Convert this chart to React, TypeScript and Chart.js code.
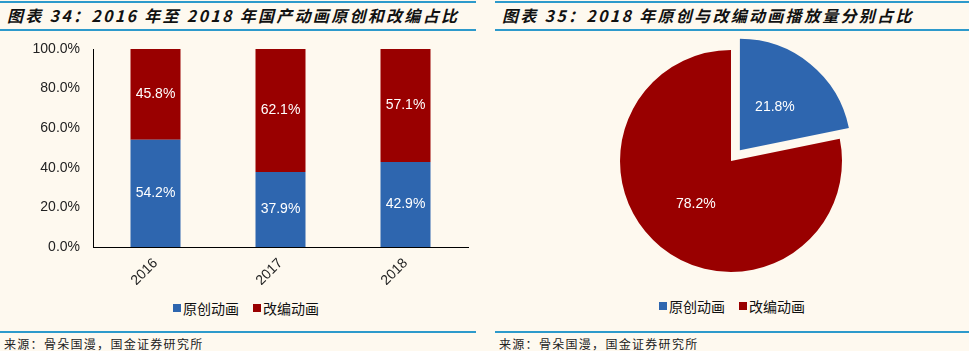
import React, { useEffect, useRef } from "react";
import { Chart, registerables } from "chart.js";

Chart.register(...registerables);

const years = ["2016", "2017", "2018"];
const originalShare = [54.2, 37.9, 42.9];
const adaptedShare = [45.8, 62.1, 57.1];
const yTicks = [0, 20, 40, 60, 80, 100];
const pieLabels = ["原创动画", "改编动画"];
const pieValues = [21.8, 78.2];
const seriesNames = ["原创动画", "改编动画"];

const BLUE = "#2E66AF";
const RED = "#990000";
const BG = "#FEF9EF";
const LINE = "#2D9ACB";
const TICK_FONT = "'Liberation Sans', Arial, sans-serif";

const barLabelPlugin = {
  id: "barLabels",
  afterDatasetsDraw(chart: any) {
    const ctx = chart.ctx;
    ctx.save();
    ctx.fillStyle = "#ffffff";
    ctx.font = `14px ${TICK_FONT}`;
    ctx.textAlign = "center";
    ctx.textBaseline = "middle";
    chart.data.datasets.forEach((ds: any, di: number) => {
      const meta = chart.getDatasetMeta(di);
      meta.data.forEach((el: any, i: number) => {
        const y = (el.y + el.base) / 2;
        ctx.fillText(ds.data[i].toFixed(1) + "%", el.x, y);
      });
    });
    ctx.restore();
  },
};

const pieLabelPlugin = {
  id: "pieLabels",
  afterDatasetsDraw(chart: any) {
    const ctx = chart.ctx;
    ctx.save();
    ctx.fillStyle = "#ffffff";
    ctx.font = `14px ${TICK_FONT}`;
    ctx.textAlign = "center";
    ctx.textBaseline = "middle";
    const ds = chart.data.datasets[0];
    const meta = chart.getDatasetMeta(0);
    meta.data.forEach((el: any, i: number) => {
      const mid = (el.startAngle + el.endAngle) / 2;
      const off = (el.options.offset || 0) / 4;
      const r = el.outerRadius * 0.5 + off;
      const x = el.x + Math.cos(mid) * r;
      const y = el.y + Math.sin(mid) * r;
      ctx.fillText(ds.data[i].toFixed(1) + "%", x, y);
    });
    ctx.restore();
  },
};

function BarChart() {
  const ref = useRef<HTMLCanvasElement>(null);
  useEffect(() => {
    const chart = new Chart(ref.current!, {
      type: "bar",
      data: {
        labels: years,
        datasets: [
          { label: seriesNames[0], data: originalShare, backgroundColor: BLUE, barPercentage: 0.4, categoryPercentage: 1 },
          { label: seriesNames[1], data: adaptedShare, backgroundColor: RED, barPercentage: 0.4, categoryPercentage: 1 },
        ],
      },
      options: {
        animation: false,
        responsive: false,
        maintainAspectRatio: false,
        layout: { padding: { top: 14, right: 10, bottom: 0, left: 0 } },
        plugins: { legend: { display: false }, tooltip: { enabled: false } },
        scales: {
          x: {
            stacked: true,
            grid: { display: false, drawTicks: false },
            border: { display: true, color: "#000", width: 1 },
            ticks: {
              autoSkip: false,
              maxRotation: 45,
              minRotation: 45,
              padding: 8,
              color: "#222",
              font: { family: TICK_FONT, size: 14 },
            },
            afterFit(scale: any) {
              scale.height = 38;
            },
          },
          y: {
            stacked: true,
            min: 0,
            max: 100,
            afterBuildTicks(scale: any) {
              scale.ticks = yTicks.map((v) => ({ value: v }));
            },
            grid: { display: false, drawTicks: false },
            border: { display: true, color: "#000", width: 1 },
            ticks: {
              padding: 13,
              color: "#222",
              font: { family: TICK_FONT, size: 14 },
              callback: (v: any) => Number(v).toFixed(1) + "%",
            },
            afterFit(scale: any) {
              scale.width = 93;
              scale.paddingTop = 8;
              scale.paddingBottom = 8;
            },
          },
        },
      },
      plugins: [barLabelPlugin],
    });
    return () => chart.destroy();
  }, []);
  return (
    <canvas
      ref={ref}
      width={478}
      height={250}
      style={{ position: "absolute", left: 0, top: 35, width: 478, height: 250 }}
    />
  );
}

function PieChart() {
  const ref = useRef<HTMLCanvasElement>(null);
  useEffect(() => {
    const chart = new Chart(ref.current!, {
      type: "pie",
      data: {
        labels: pieLabels,
        datasets: [
          {
            data: pieValues,
            backgroundColor: [BLUE, RED],
            borderWidth: 0,
            offset: [56, 0],
            radius: 111,
          } as any,
        ],
      },
      options: {
        animation: false,
        responsive: false,
        maintainAspectRatio: false,
        plugins: { legend: { display: false }, tooltip: { enabled: false } },
      },
      plugins: [pieLabelPlugin],
    });
    return () => chart.destroy();
  }, []);
  return (
    <canvas
      ref={ref}
      width={476}
      height={252}
      style={{ position: "absolute", left: 493, top: 35, width: 476, height: 252 }}
    />
  );
}

function Legend({ left, top }: { left: number; top: number }) {
  const item = (color: string, text: string, ml: number) => (
    <span style={{ display: "inline-flex", alignItems: "center", marginLeft: ml }}>
      <span style={{ width: 8, height: 8, background: color, display: "inline-block", marginRight: 2 }} />
      <span>{text}</span>
    </span>
  );
  return (
    <div
      style={{
        position: "absolute",
        left,
        top,
        height: 20,
        lineHeight: "20px",
        fontSize: 14,
        fontFamily: "'Noto Sans CJK SC', sans-serif",
        color: "#111",
        whiteSpace: "nowrap",
        display: "flex",
        alignItems: "center",
      }}
    >
      {item(BLUE, seriesNames[0], 0)}
      {item(RED, seriesNames[1], 14)}
    </div>
  );
}

function Panel({ left, width, title }: { left: number; width: number; title: string }) {
  return (
    <>
      <div style={{ position: "absolute", left, top: 1, width, height: 2, background: LINE }} />
      <div
        style={{
          position: "absolute",
          left: left + 7,
          top: 3,
          height: 24,
          lineHeight: "24px",
          fontSize: 16,
          fontWeight: 700,
          fontStyle: "italic",
          letterSpacing: 2.3,
          fontFamily: "'Noto Sans CJK SC', sans-serif",
          color: "#111",
          whiteSpace: "nowrap",
        }}
      >
        {title}
      </div>
      <div style={{ position: "absolute", left, top: 29, width, height: 2, background: LINE }} />
      <div style={{ position: "absolute", left, top: 331, width, height: 2, background: LINE }} />
      <div
        style={{
          position: "absolute",
          left: left + 4,
          top: 336,
          height: 15,
          lineHeight: "15px",
          fontSize: 12,
          letterSpacing: 1.3,
          fontFamily: "'Noto Sans CJK SC', serif",
          color: "#222",
          whiteSpace: "nowrap",
        }}
      >
        来源：骨朵国漫，国金证券研究所
      </div>
    </>
  );
}

export default function App() {
  return (
    <div
      style={{
        position: "absolute",
        left: 0,
        top: 0,
        width: 969,
        height: 351,
        background: BG,
        overflow: "hidden",
      }}
    >
      <Panel left={0} width={476} title="图表 34：2016 年至 2018 年国产动画原创和改编占比" />
      <Panel left={495} width={474} title="图表 35：2018 年原创与改编动画播放量分别占比" />
      <BarChart />
      <PieChart />
      <Legend left={173} top={298} />
      <Legend left={659} top={296} />
    </div>
  );
}
